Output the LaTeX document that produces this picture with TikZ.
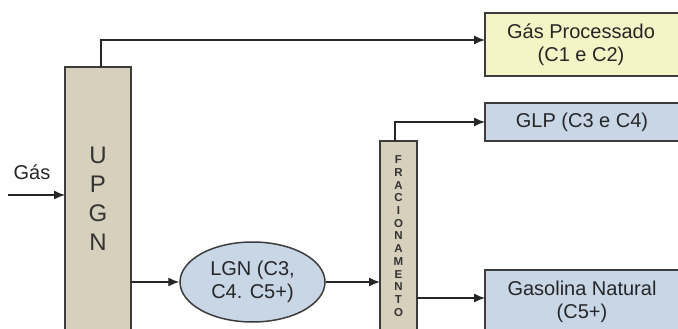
\documentclass[tikz,border=0pt]{standalone}
\usepackage{fontspec}
\setmainfont{Liberation Sans}
\usetikzlibrary{arrows.meta,shapes.geometric}
\definecolor{tan}{RGB}{214,208,188}
\definecolor{ylw}{RGB}{245,244,198}
\definecolor{blu}{RGB}{200,214,230}
\definecolor{edge}{RGB}{60,60,60}
\tikzset{
  box/.style={draw=edge, line width=1.5pt, inner sep=0pt, outer sep=0pt},
  conn/.style={line width=1.3pt, draw=black!85},
  arr/.style={conn, -{Latex[length=11pt,width=9pt]}},
  txt/.style={font=\fontsize{20}{23.5}\selectfont, align=center, text=black!85}
}
\begin{document}
\begin{tikzpicture}[x=1pt,y=-1pt]
\useasboundingbox (0,0) rectangle (678,329);
\begin{scope}
\clip (0,0) rectangle (678,329);
\node[box, fill=tan, minimum width=66pt, minimum height=268pt] (upgn) at (98,201) {};
\node[font=\fontsize{24}{29}\selectfont, align=center, text=black!80] (upgnl) at (98,199) {U\\P\\G\\N};
\node[box, fill=tan, minimum width=37pt, minimum height=194pt] (frac) at (398.5,238) {};
\node[font=\fontsize{11.5}{12.7}\selectfont\bfseries, align=center, text=black!80] (fracl) at (398.5,236) {F\\R\\A\\C\\I\\O\\N\\A\\M\\E\\N\\T\\O};
\node[box, fill=ylw, minimum width=195pt, minimum height=63pt] (gp) at (582.5,44.5) {};
\node[txt] (gpl) at (581,44.5) {Gás Processado\\(C1 e C2)};
\node[box, fill=blu, minimum width=195pt, minimum height=38pt] (glp) at (582.5,122) {};
\node[txt] (glpl) at (582,122) {GLP (C3 e C4)};
\node[box, fill=blu, minimum width=195pt, minimum height=64pt] (gn) at (582.5,302) {};
\node[txt] (gnl) at (582,302) {Gasolina Natural\\(C5+)};
\node[draw=edge, line width=1.5pt, fill=blu, ellipse, minimum width=145pt, minimum height=80pt, inner sep=0pt] (lgn) at (252.5,282) {};
\node[txt] (lgnl) at (252.5,282) {LGN (C3,\\C4. C5+)};
\node[txt] (gasl) at (32,172) {Gás};
\coordinate (gasin) at (8,195);
\draw[arr] (gasin) -- (gasin -| upgn.west);
\draw[arr] ([xshift=3pt]upgn.north) |- ([yshift=4.5pt]gp.west);
\draw[arr] (lgn.west -| upgn.east) -- (lgn.west);
\draw[arr] (lgn.east) -- (lgn.east -| frac.west);
\draw[arr] ([yshift=4pt]gn.west -| frac.east) -- ([yshift=4pt]gn.west);
\draw[arr] ([xshift=-3.5pt]frac.north) |- (glp.west);
\end{scope}
\end{tikzpicture}
\end{document}
